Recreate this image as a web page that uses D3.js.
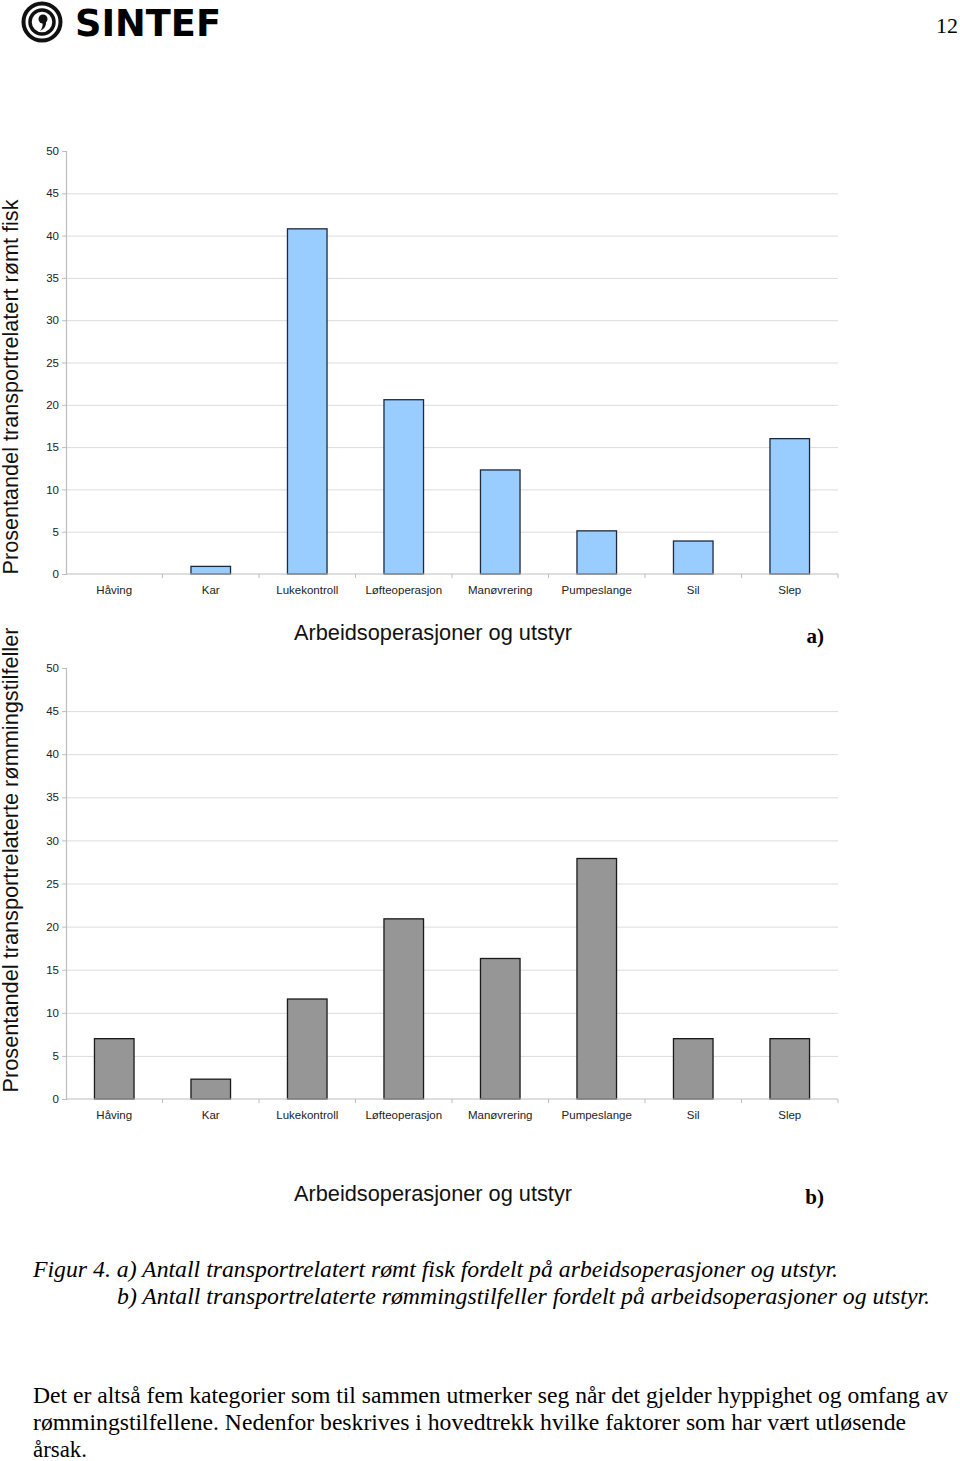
<!DOCTYPE html>
<html>
<head>
<meta charset="utf-8">
<script src="https://cdn.jsdelivr.net/npm/d3@7"></script>
<style>
body { margin: 0; background: #fff; }
svg { display: block; }
</style>
</head>
<body>
<svg id="page"></svg>
<script>
let categories = ['Håving', 'Kar', 'Lukekontroll', 'Løfteoperasjon', 'Manøvrering', 'Pumpeslange', 'Sil', 'Slep']
// a) share of transport-related escaped fish (%)
let fishShare = [0, 0.9, 40.8, 20.6, 12.3, 5.1, 3.9, 16.0]
// b) share of transport-related escape incidents (%)
let incidentShare = [7.0, 2.3, 11.6, 20.9, 16.3, 27.9, 7.0, 7.0]
let yTicks = [0, 5, 10, 15, 20, 25, 30, 35, 40, 45, 50]

let width = 960
let height = 1461

let svg = d3.select('#page')
    .attr('width', width)
    .attr('height', height)

// header: logo + page number
let logo = svg.append('g')
logo.append('circle').attr('cx', 42).attr('cy', 22).attr('r', 18.5)
    .attr('fill', 'none').attr('stroke', '#111').attr('stroke-width', 4)
logo.append('circle').attr('cx', 42).attr('cy', 22).attr('r', 12)
    .attr('fill', 'none').attr('stroke', '#111').attr('stroke-width', 3.5)
logo.append('circle').attr('cx', 43).attr('cy', 19).attr('r', 4.5).attr('fill', '#111')
logo.append('path').attr('d', 'M46,20 Q47,28 40,31 Q44,26 42,22 Z').attr('fill', '#111')
logo.append('text')
    .attr('x', 75).attr('y', 36)
    .attr('font-family', 'DejaVu Sans').attr('font-weight', 'bold')
    .attr('font-size', 37)
    .attr('textLength', 146).attr('lengthAdjust', 'spacingAndGlyphs')
    .text('SINTEF')

svg.append('text')
    .attr('x', 958).attr('y', 33).attr('text-anchor', 'end')
    .attr('font-family', 'Liberation Serif').attr('font-size', 22)
    .text('12')

let xScale = d3.scaleBand()
    .domain(categories)
    .range([66, 838])

let drawChart = (values, opts) => {
    let yScale = d3.scaleLinear()
        .domain([0, 50])
        .range([opts.bottom, opts.top])

    let g = svg.append('g')

    // gridlines
    g.append('g')
        .attr('transform', 'translate(66, 0)')
        .call(d3.axisLeft(yScale).tickValues(yTicks.filter(t => t > 0 && t < 50)).tickSize(-(838 - 66)).tickFormat(''))
        .call(s => s.select('.domain').remove())
        .call(s => s.selectAll('line').attr('stroke', '#dcdcdc'))

    // y axis
    let yAxis = d3.axisLeft(yScale)
        .tickValues(yTicks)
        .tickSize(4)
        .tickPadding(3)
        .tickFormat(d3.format('d'))
    g.append('g')
        .attr('transform', 'translate(66, 0)')
        .call(yAxis)
        .call(s => s.select('.domain').attr('stroke', '#bdbdbd').attr('stroke-width', 1.2))
        .call(s => s.selectAll('line').attr('stroke', '#bdbdbd'))
        .call(s => s.selectAll('text').attr('font-family', 'Liberation Sans').attr('font-size', 11.5).attr('fill', '#222'))

    // bars
    let bw = xScale.bandwidth() * 0.41
    g.selectAll('rect.bar')
        .data(values)
        .enter()
        .append('rect')
        .attr('class', 'bar')
        .attr('x', (d, i) => xScale(categories[i]) + (xScale.bandwidth() - bw) / 2)
        .attr('width', bw)
        .attr('y', d => yScale(d))
        .attr('height', d => yScale(0) - yScale(d))
        .attr('fill', opts.fill)
        .attr('stroke', opts.stroke)
        .attr('stroke-width', 1.3)
        .style('display', d => d > 0 ? null : 'none')

    // x axis line with ticks between categories
    g.append('line')
        .attr('x1', 66).attr('x2', 838)
        .attr('y1', yScale(0)).attr('y2', yScale(0))
        .attr('stroke', '#bdbdbd').attr('stroke-width', 1.2)
    g.selectAll('line.xtick')
        .data(categories)
        .enter()
        .append('line')
        .attr('class', 'xtick')
        .attr('x1', d => xScale(d) + xScale.bandwidth())
        .attr('x2', d => xScale(d) + xScale.bandwidth())
        .attr('y1', yScale(0)).attr('y2', yScale(0) + 4)
        .attr('stroke', '#bdbdbd')
    g.selectAll('text.cat')
        .data(categories)
        .enter()
        .append('text')
        .attr('class', 'cat')
        .attr('x', d => xScale(d) + xScale.bandwidth() / 2)
        .attr('y', yScale(0) + 20)
        .attr('text-anchor', 'middle')
        .attr('font-family', 'Liberation Sans').attr('font-size', 11.5).attr('fill', '#222')
        .text(d => d)

    // axis titles
    g.append('text')
        .attr('transform', 'translate(18, ' + opts.yTitleCenter + ') rotate(-90)')
        .attr('text-anchor', 'middle')
        .attr('font-family', 'Liberation Sans').attr('font-size', 21.5).attr('fill', '#111')
        .attr('textLength', opts.yTitleLen).attr('lengthAdjust', 'spacingAndGlyphs')
        .text(opts.yTitle)
    g.append('text')
        .attr('x', 433).attr('y', opts.xTitleY)
        .attr('text-anchor', 'middle')
        .attr('font-family', 'Liberation Sans').attr('font-size', 21.5).attr('fill', '#111')
        .attr('textLength', 278).attr('lengthAdjust', 'spacingAndGlyphs')
        .text('Arbeidsoperasjoner og utstyr')
    g.append('text')
        .attr('x', 824).attr('y', opts.xTitleY + 3)
        .attr('text-anchor', 'end')
        .attr('font-family', 'Liberation Serif').attr('font-weight', 'bold').attr('font-size', 21)
        .text(opts.label)
}

drawChart(fishShare, {
    top: 151, bottom: 574,
    fill: '#99ccff', stroke: '#1c2a40',
    yTitle: 'Prosentandel transportrelatert rømt fisk', yTitleCenter: 387, yTitleLen: 375,
    xTitleY: 640, label: 'a)'
})

drawChart(incidentShare, {
    top: 668, bottom: 1099,
    fill: '#969696', stroke: '#1a1a1a',
    yTitle: 'Prosentandel transportrelaterte rømmingstilfeller', yTitleCenter: 860, yTitleLen: 465,
    xTitleY: 1201, label: 'b)'
})

// caption
let caption = [
    {x: 33, y: 1277, len: 805, t: 'Figur 4. a) Antall transportrelatert rømt fisk fordelt på arbeidsoperasjoner og utstyr.'},
    {x: 117, y: 1304, len: 813, t: 'b) Antall transportrelaterte rømmingstilfeller fordelt på arbeidsoperasjoner og utstyr.'}
]
svg.selectAll('text.caption')
    .data(caption)
    .enter()
    .append('text')
    .attr('class', 'caption')
    .attr('x', d => d.x).attr('y', d => d.y)
    .attr('font-family', 'Liberation Serif').attr('font-style', 'italic').attr('font-size', 23)
    .attr('textLength', d => d.len).attr('lengthAdjust', 'spacingAndGlyphs')
    .text(d => d.t)

let body = [
    {y: 1403, len: 915, t: 'Det er altså fem kategorier som til sammen utmerker seg når det gjelder hyppighet og omfang av'},
    {y: 1430, len: 873, t: 'rømmingstilfellene. Nedenfor beskrives i hovedtrekk hvilke faktorer som har vært utløsende'},
    {y: 1457, len: 54, t: 'årsak.'}
]
svg.selectAll('text.body')
    .data(body)
    .enter()
    .append('text')
    .attr('class', 'body')
    .attr('x', 33).attr('y', d => d.y)
    .attr('font-family', 'Liberation Serif').attr('font-size', 23)
    .attr('textLength', d => d.len).attr('lengthAdjust', 'spacingAndGlyphs')
    .text(d => d.t)
</script>
</body>
</html>
